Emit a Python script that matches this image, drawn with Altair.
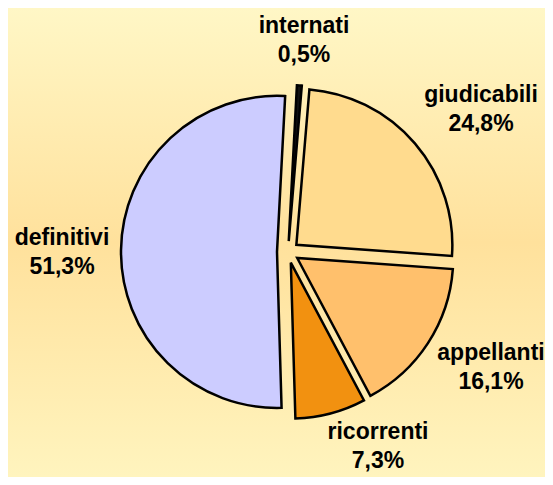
import math
import altair as alt
import pandas as pd

# ---- data ----
categories = ["internati", "giudicabili", "appellanti", "ricorrenti", "definitivi"]
values = [0.5, 24.8, 16.1, 7.3, 51.3]
colors = ["#111111", "#FFDB8E", "#FFC06C", "#F29110", "#CCCCFF"]

# ---- layout (style, not data) ----
W, H = 537, 469
CX, CY = 280, 244
R = 156
EXPLODE = 11
ROT = math.radians(3)
# label anchor (first-line baseline) in plot pixels
label_anchor = {
    "internati": (296, 25),
    "giudicabili": (473, 94),
    "appellanti": (483, 352),
    "ricorrenti": (370, 431),
    "definitivi": (54, 237),
}

total = sum(values)
rows = []
acc = 0.0
for c, v, col in zip(categories, values, colors):
    t0 = ROT + acc / total * 2 * math.pi
    acc += v
    t1 = ROT + acc / total * 2 * math.pi
    mid = (t0 + t1) / 2
    lx, ly = label_anchor[c]
    rows.append({
        "cat": c,
        "val": v,
        "t0": t0,
        "t1": t1,
        "cx": CX + EXPLODE * math.sin(mid),
        "cy": CY - EXPLODE * math.cos(mid),
        "label": [c, f"{v:.1f}".replace(".", ",") + "%"],
        "lx": lx,
        "ly": ly,
    })
df = pd.DataFrame(rows)

bg = alt.Chart(alt.Data(values=[{}])).mark_rect(
    color=alt.Gradient(
        gradient="linear",
        stops=[
            alt.GradientStop(color="#FFF7C6", offset=0),
            alt.GradientStop(color="#FFE19C", offset=0.5),
            alt.GradientStop(color="#FFF4BE", offset=1),
        ],
        x1=0, x2=0, y1=0, y2=1,
    )
).encode(
    x=alt.value(0), x2=alt.value("width"), y=alt.value(0), y2=alt.value("height")
)

pie = alt.Chart(df).mark_arc(
    radius=R, stroke="black", strokeWidth=2.5, strokeJoin="miter"
).encode(
    theta=alt.Theta("t0:Q", scale=None),
    theta2="t1:Q",
    x=alt.X("cx:Q", scale=None),
    y=alt.Y("cy:Q", scale=None),
    color=alt.Color("cat:N", scale=alt.Scale(domain=categories, range=colors), legend=None),
)

labels = alt.Chart(df).mark_text(
    font="Liberation Sans", fontWeight="bold", fontSize=23, lineHeight=29,
    align="center", baseline="alphabetic", color="black"
).encode(
    x=alt.X("lx:Q", scale=None),
    y=alt.Y("ly:Q", scale=None),
    text="label",
)

chart = alt.layer(bg, pie, labels).properties(
    width=W, height=H, padding=0,
    background="#FFEDB0",
    autosize=alt.AutoSizeParams(type="fit", contains="padding"),
).configure_view(stroke=None)

chart.save("out.html", embed_options={"renderer": "svg", "actions": False})
